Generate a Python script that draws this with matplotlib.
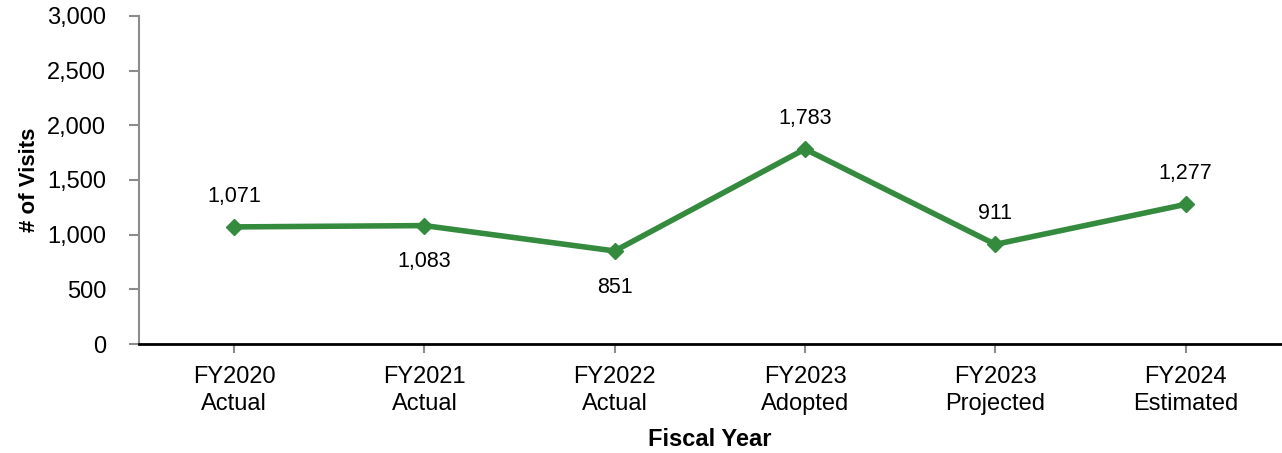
import matplotlib.pyplot as plt
from matplotlib.ticker import FuncFormatter

plt.rcParams['font.family'] = ['Liberation Sans', 'DejaVu Sans']

years = ["FY2020\nActual", "FY2021\nActual", "FY2022\nActual",
         "FY2023\nAdopted", "FY2023\nProjected", "FY2024\nEstimated"]
visits = [1071, 1083, 851, 1783, 911, 1277]
label_above = [True, False, False, True, True, True]

green = "#348a3d"
grey = "#8c8c8c"

fig = plt.figure(figsize=(12.82, 4.53), dpi=100)
ax = fig.add_axes([0.1084, 0.2406, 0.8906, 0.7241])

x = list(range(len(years)))
ax.plot(x, visits, color=green, lw=4, marker="D", ms=8, solid_joinstyle="miter")

for xi, v, up in zip(x, visits, label_above):
    ax.annotate(f"{v:,}", (xi, v), xytext=(0, 22 if up else -26),
                textcoords="offset points", ha="center", va="center",
                fontsize=15.5)

ax.set_xlim(-0.5, len(years) - 0.5)
ax.set_ylim(0, 3000)
ax.set_yticks(range(0, 3001, 500))
ax.yaxis.set_major_formatter(FuncFormatter(lambda v, p: f"{int(v):,}"))
ax.set_xticks(x)
ax.set_xticklabels(years, fontsize=17, linespacing=1.33)
ax.tick_params(axis="y", labelsize=17, length=7, width=1.5, color=grey, pad=16.5)
ax.tick_params(axis="x", length=6.5, width=1.5, color=grey, pad=9)

for s in ("top", "right"):
    ax.spines[s].set_visible(False)
ax.spines["left"].set_color(grey)
ax.spines["left"].set_linewidth(1.5)
ax.spines["bottom"].set_color("black")
ax.spines["bottom"].set_linewidth(2)

ax.set_xlabel("Fiscal Year", fontsize=17, fontweight="bold", labelpad=9)
ax.set_ylabel("# of Visits", fontsize=16, fontweight="bold", labelpad=5)

fig.savefig("out.png", dpi=100)
